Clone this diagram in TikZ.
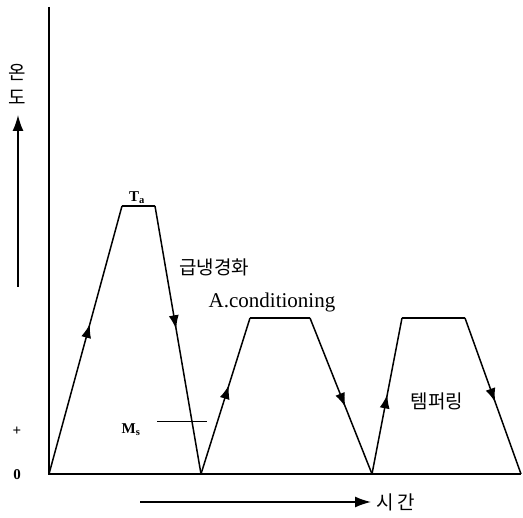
\documentclass[tikz,border=0pt]{standalone}
\usepackage{fontspec}
\setmainfont{Liberation Serif}
\newfontfamily\krfont{Noto Sans CJK KR}
\usetikzlibrary{arrows.meta,decorations.markings}

\begin{document}
\begin{tikzpicture}[x=1pt, y=-1pt, line width=1.5pt,
    flow/.style={postaction={decorate}, decoration={markings,
        mark=at position #1 with {\arrow{Latex[length=14pt,width=10pt]}}}},
    kr/.style={font=\krfont\fontsize{19}{25}\selectfont, inner sep=0pt},
    small/.style={font=\bfseries\fontsize{15}{16}\selectfont, inner sep=0pt}]
    \definecolor{lineColour}{HTML}{000000}

    \useasboundingbox (0,0) rectangle (523,518);

    % Draw axes
    \draw[lineColour] (49,7) coordinate (top) -- (49,474) coordinate (O) -- (521,474) coordinate (end);

    % Axis arrows and labels
    \node[kr] (tempA) at (17,72) {온};
    \node[kr] (tempB) at (17,97) {도};
    \coordinate (tempTail) at (18,287);
    \coordinate (tempTip) at (18,115);
    \draw[-{Latex[length=16pt,width=11pt]}] (tempTail) -- (tempTip);

    \coordinate (timeTail) at (140,502);
    \coordinate (timeTip) at (371,502);
    \draw[-{Latex[length=16pt,width=11pt]}] (timeTail) -- (timeTip);
    \node[kr, anchor=west] (time) at (376,502) {시\,간};

    \node[small] (plus) at (17,431) {+};
    \node[small] (zero) at (17,475) {0};

    % Heat treatment profile
    \coordinate (P0) at (49,474);
    \coordinate (P1) at (122,206);
    \coordinate (P2) at (155,206);
    \coordinate (P3) at (201,474);
    \coordinate (P4) at (250,318);
    \coordinate (P5) at (310,318);
    \coordinate (P6) at (372,474);
    \coordinate (P7) at (402,318);
    \coordinate (P8) at (465,318);
    \coordinate (P9) at (521,474);

    \draw[flow=0.56] (P0) -- (P1);
    \draw (P1) -- (P2);
    \draw[flow=0.46] (P2) -- (P3);
    \draw[flow=0.57] (P3) -- (P4);
    \draw (P4) -- (P5);
    \draw[flow=0.57] (P5) -- (P6);
    \draw[flow=0.51] (P6) -- (P7);
    \draw (P7) -- (P8);
    \draw[flow=0.54] (P8) -- (P9);

    % Labels
    \node[small] (Ta) at (137,198) {T\textsubscript{a}};
    \node[kr] (quench) at (214,267) {급냉경화};
    \node[font=\fontsize{21}{24}\selectfont, inner sep=0pt] (cond) at (272,302) {A.conditioning};
    \node[kr] (temper) at (437,401) {템퍼링};

    \node[small] (Ms) at (131,430) {M\textsubscript{s}};
    \coordinate (MsA) at (157,422);
    \coordinate (MsB) at (207,422);
    \draw[line width=1pt] (MsA) -- (MsB);

\end{tikzpicture}
\end{document}
